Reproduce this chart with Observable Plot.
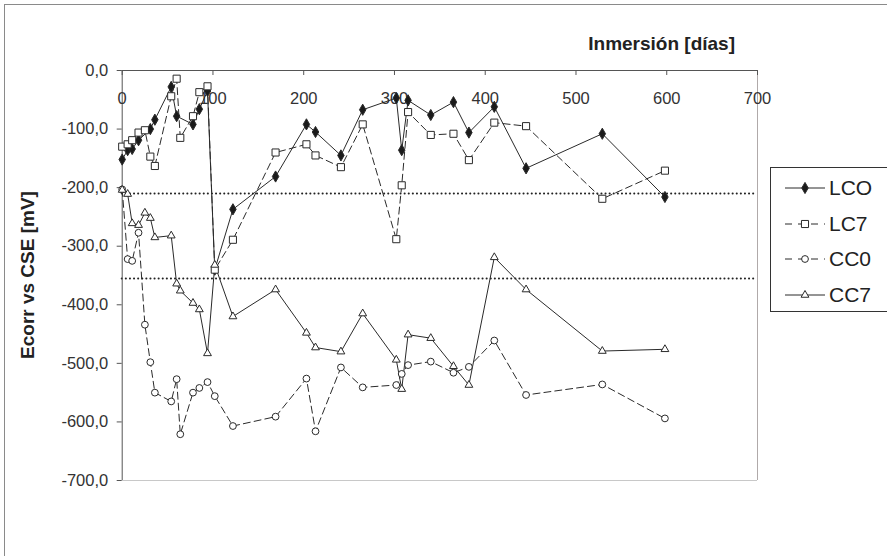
<!DOCTYPE html>
<html>
<head>
<meta charset="utf-8">
<script src="https://cdn.jsdelivr.net/npm/d3@7"></script>
<script src="https://cdn.jsdelivr.net/npm/@observablehq/plot@0.6"></script>
<style>
  html, body { margin: 0; padding: 0; background: #fff; }
  #wrap { position: relative; width: 887px; height: 556px; overflow: hidden; font-family: "Liberation Sans", Arial, sans-serif; color: #222; }
  #frame { position: absolute; left: 4px; top: 4px; width: 900px; height: 900px; border: 1px solid #8a8a8a; box-sizing: border-box; pointer-events: none; }
  #xtitle { position: absolute; right: 152px; top: 33px; font-weight: bold; font-size: 19px; white-space: nowrap; color: #222; }
  #ytitle { position: absolute; left: 28px; top: 275px; transform: translate(-50%, -50%) rotate(-90deg); font-weight: bold; font-size: 19px; white-space: nowrap; color: #222; }
  #legend { position: absolute; left: 770px; top: 167px; width: 140px; height: 145px; border: 1px solid #333; box-sizing: border-box; background: #fff; }
  .item { position: absolute; left: 0; height: 30px; display: flex; align-items: center; font-size: 21px; color: #222; }
  .item svg { margin-left: 14px; margin-right: 4px; }
</style>
</head>
<body>
<div id="wrap">
  <div id="chart"></div>
  <div id="xtitle">Inmersión [días]</div>
  <div id="ytitle">Ecorr vs CSE [mV]</div>
  <div id="legend"></div>
  <div id="frame"></div>
</div>
<script>
// ---- data ----
const days = [0, 6, 11, 18, 25, 31, 36, 54, 60, 64, 78, 85, 94, 102, 122, 169, 203, 213, 241, 265, 302, 308, 315, 340, 365, 382, 410, 445, 529, 598];
const LCO = [-152, -136, -134, -119, null, -100, -84, -28, -78, null, -92, -66, -35, -340, -237, -181, -92, -105, -145, -67, -47, -136, -51, -76, -54, -106, -62, -167, -108, -216];
const LC7 = [-130, -126, -119, -106, -102, -147, -163, -44, -14, -115, -78, -37, -27, -340, -289, -140, -126, -145, -165, -92, -288, -196, -71, -110, -108, -153, -89, -95, -219, -171];
const CC0 = [-203, -322, -325, -277, -434, -498, -550, -565, -527, -621, -550, -542, -532, -556, -607, -591, -526, -616, -507, -541, -537, -518, -503, -497, -516, -506, -461, -554, -536, -594];
const CC7 = [-204, -211, -261, -264, -243, -252, -285, -282, -364, -376, -397, -408, -483, -332, -420, -374, -448, -473, -480, -415, -494, -544, -451, -457, -505, -537, -319, -374, -479, -476];
const seriesNames = ["LCO", "LC7", "CC0", "CC7"];
const thresholds = [-210, -355];
const xTicks = [0, 100, 200, 300, 400, 500, 600, 700];
const yTicks = [0, -100, -200, -300, -400, -500, -600, -700];

// ---- build table ----
const seriesValues = {LCO, LC7, CC0, CC7};
const rows = (name) => days.map((d, i) => ({day: d, v: seriesValues[name][i], s: name})).filter(r => r.v != null);

const style = {
  LCO: {symbol: "diamond", fill: "#1a1a1a", dash: null, r: 3.4},
  LC7: {symbol: "square", fill: "#fff", dash: "7,4", r: 4.0},
  CC0: {symbol: "circle", fill: "#fff", dash: "7,4", r: 3.4},
  CC7: {symbol: "triangle", fill: "#fff", dash: null, r: 2.9}
};
const ink = "#2a2a2a";

const marks = [
  Plot.ruleX([700], {stroke: "#b0aaaa"}),
  Plot.ruleY([-700], {stroke: "#c8c8c8"}),
  Plot.ruleY(thresholds, {stroke: "#222", strokeWidth: 2, strokeDasharray: "0.1,4", strokeLinecap: "round"}),
  Plot.ruleY([0], {stroke: "#555"}),
  Plot.ruleX([0], {stroke: "#555"}),
  Plot.ruleX(xTicks, {stroke: "#555", insetBottom: 556 - 70 - 76 - 5}),
  Plot.axisY({anchor: "left", ticks: yTicks, tickSize: 5, tickPadding: 9, stroke: "#555", label: null,
    tickFormat: d => d.toFixed(1).replace(".", ","), fontSize: 16.5, fill: "#333"}),
  Plot.axisX({anchor: "top", ticks: xTicks, tickSize: 0, tickPadding: 0, dy: 33, fontSize: 16.5, fill: "#333", label: null,
    tickFormat: d => String(d)})
];
for (const name of seriesNames) {
  const st = style[name];
  marks.push(Plot.line(rows(name), {x: "day", y: "v", stroke: ink, strokeWidth: 1, strokeDasharray: st.dash}));
}
for (const name of seriesNames) {
  const st = style[name];
  marks.push(Plot.dot(rows(name), {x: "day", y: "v", symbol: () => st.symbol, r: st.r, fill: st.fill, stroke: ink, strokeWidth: 1}));
}

const chart = Plot.plot({
  width: 887, height: 556,
  marginLeft: 121.7, marginTop: 70, marginRight: 130, marginBottom: 76,
  x: {domain: [0, 700], label: null},
  y: {domain: [-700, 0], label: null},
  symbol: {type: "identity"},
  style: {background: "#fff", fontFamily: "'Liberation Sans', Arial, sans-serif", fontSize: "16.5px", color: "#333"},
  marks
});
document.getElementById("chart").appendChild(chart);

// ---- legend ----
const legend = document.getElementById("legend");
const symMap = {diamond: d3.symbolDiamond, square: d3.symbolSquare, circle: d3.symbolCircle, triangle: d3.symbolTriangle};
seriesNames.forEach((name, i) => {
  const st = style[name];
  const item = document.createElement("div");
  item.className = "item";
  item.style.top = (5 + i * 35.5) + "px";
  const svg = d3.create("svg").attr("width", 40).attr("height", 20);
  svg.append("line").attr("x1", 0).attr("x2", 40).attr("y1", 10).attr("y2", 10)
    .attr("stroke", ink).attr("stroke-dasharray", st.dash ? "7,6" : null);
  svg.append("path").attr("transform", "translate(20,10)")
    .attr("d", d3.symbol(symMap[st.symbol], Math.PI * st.r * st.r)())
    .attr("fill", st.fill).attr("stroke", ink);
  item.appendChild(svg.node());
  const t = document.createElement("span");
  t.textContent = name;
  item.appendChild(t);
  legend.appendChild(item);
});
</script>
</body>
</html>
